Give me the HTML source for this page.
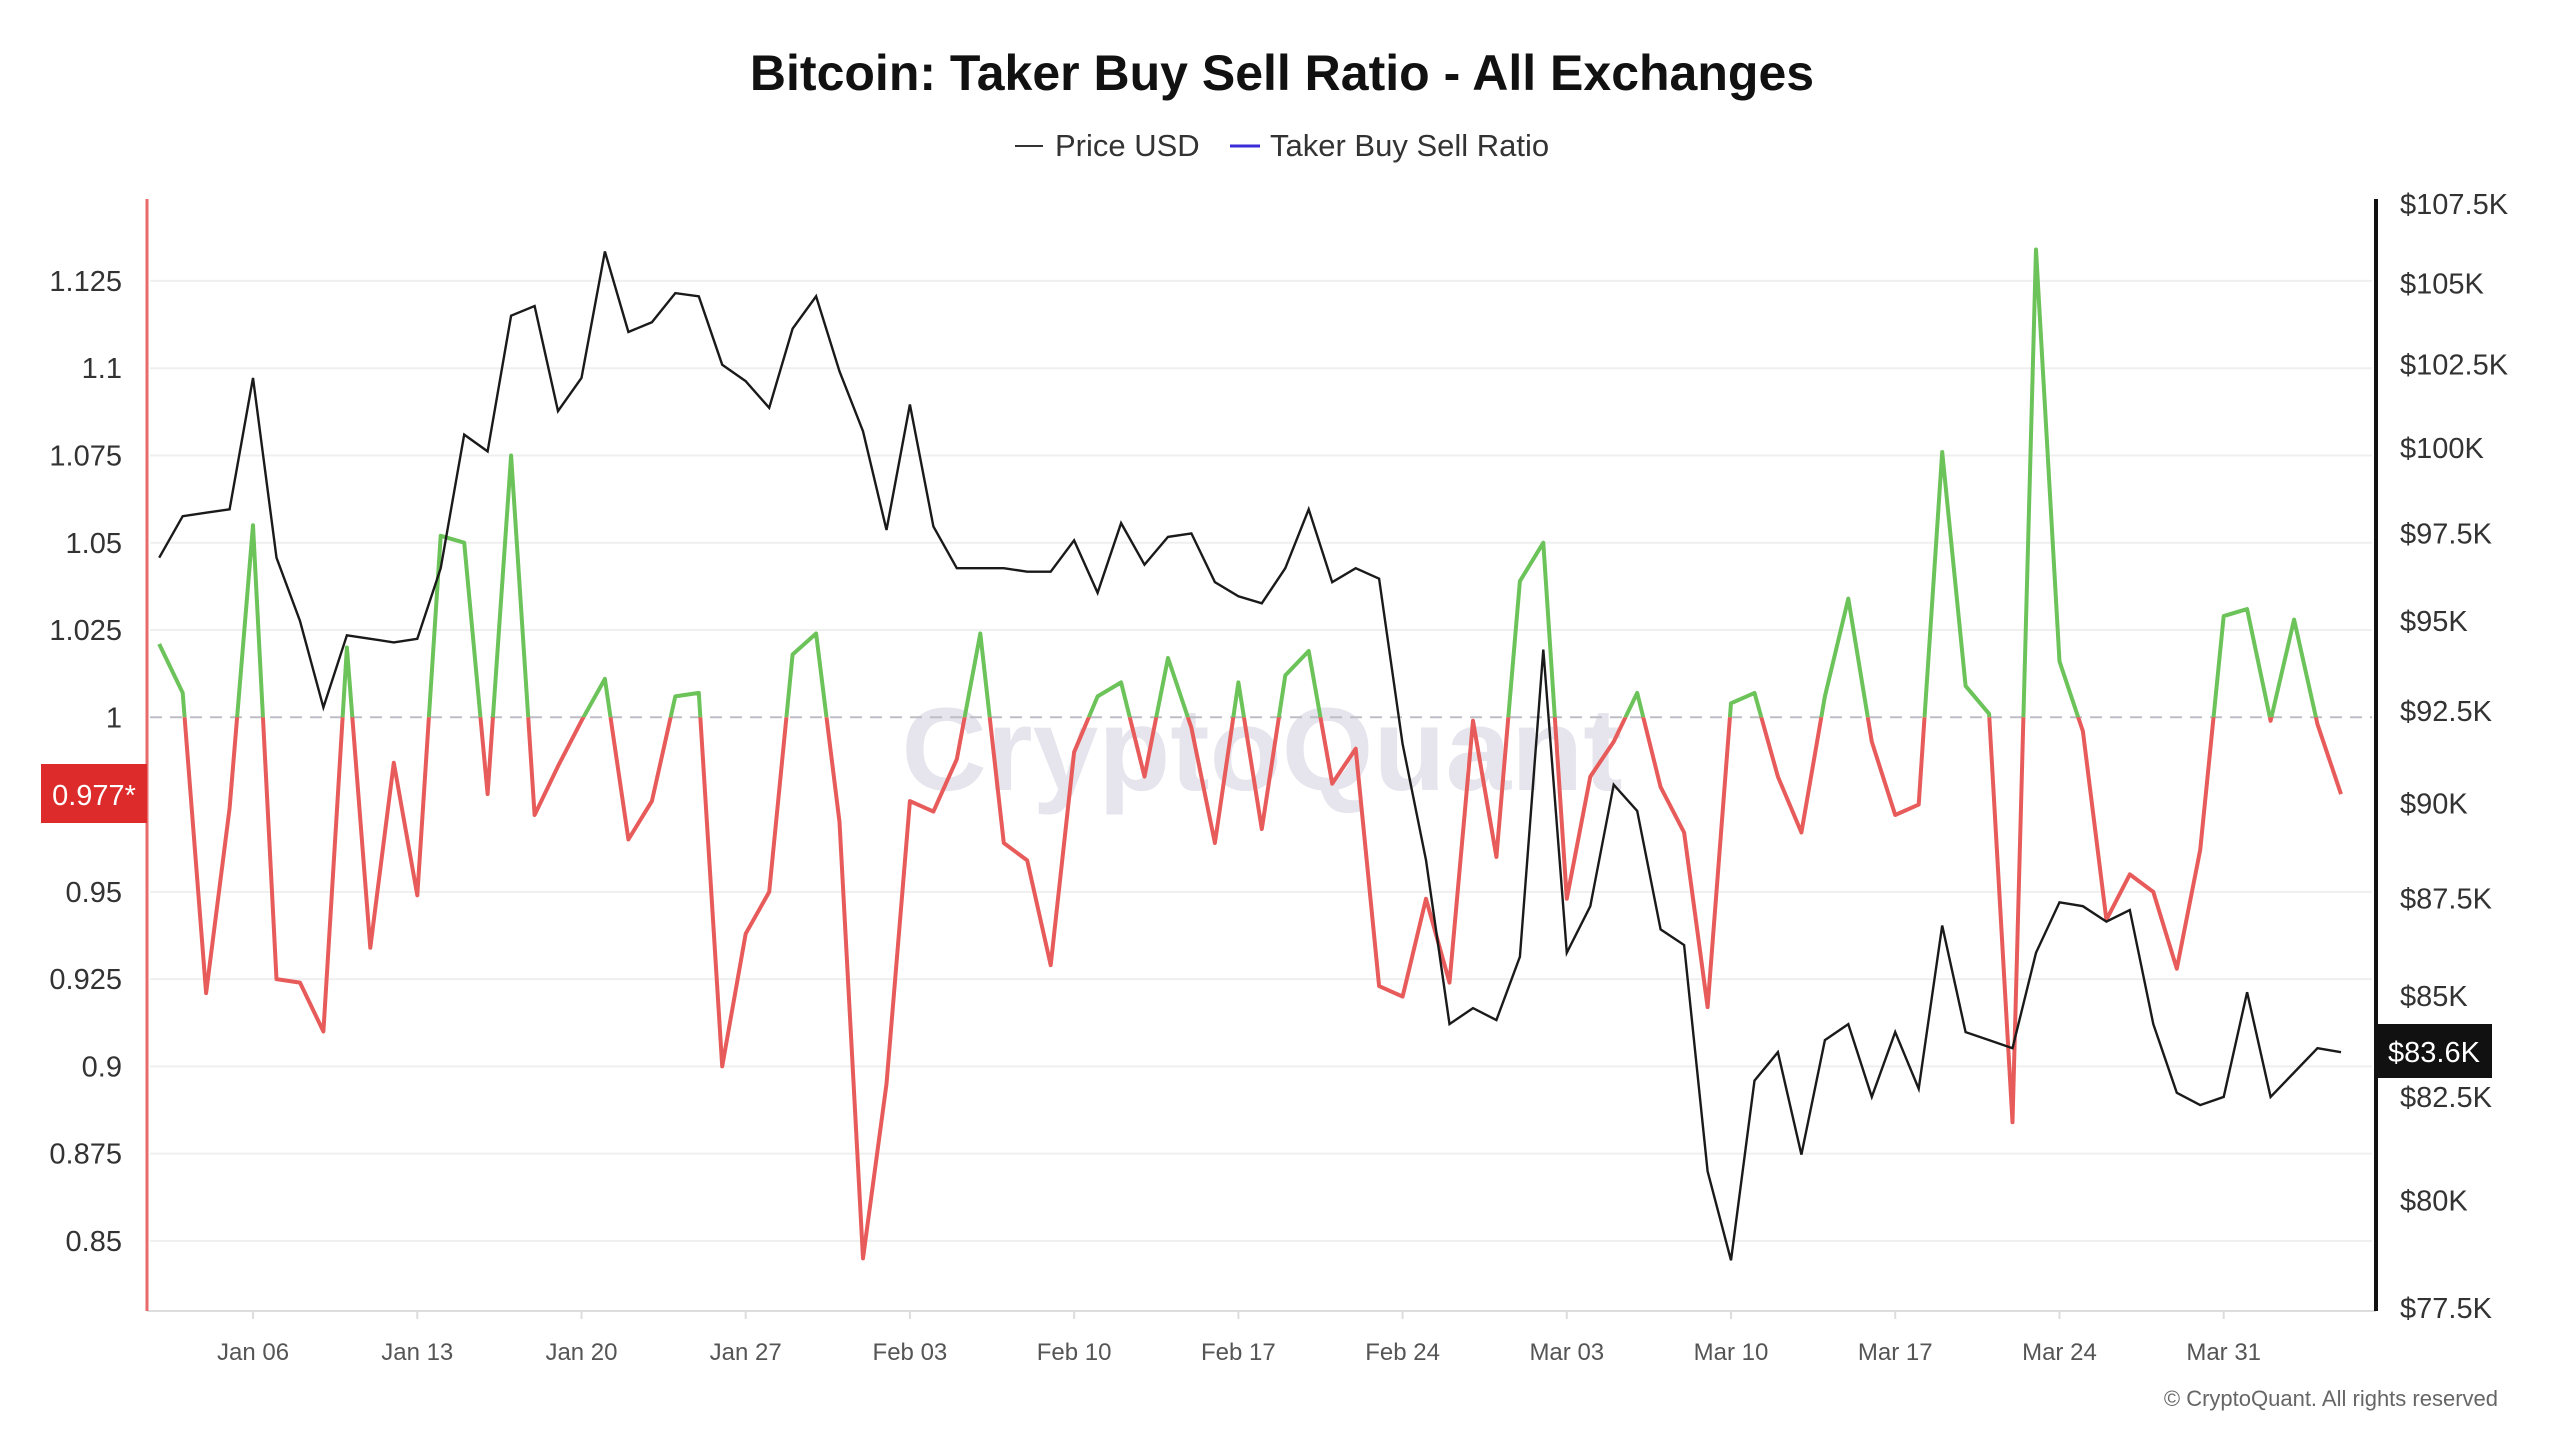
<!DOCTYPE html>
<html><head><meta charset="utf-8">
<style>
html,body{margin:0;padding:0;background:#fff;}
body{width:2560px;height:1440px;overflow:hidden;font-family:"Liberation Sans",sans-serif;}
svg text{font-family:"Liberation Sans",sans-serif;}
</style></head>
<body>
<svg id="chart" width="2560" height="1440" viewBox="0 0 2560 1440" xmlns="http://www.w3.org/2000/svg">
  <text x="1282" y="90" text-anchor="middle" font-size="50" font-weight="bold" fill="#111">Bitcoin: Taker Buy Sell Ratio - All Exchanges</text>
  <g>
    <g>
      <line x1="1015" y1="146" x2="1043" y2="146" stroke="#333" stroke-width="2"/>
      <text x="1055" y="156" font-size="31" fill="#333">Price USD</text>
    </g>
    <g>
      <line x1="1230" y1="146" x2="1260" y2="146" stroke="#3b2bd9" stroke-width="3"/>
      <text x="1270" y="156" font-size="31" fill="#333">Taker Buy Sell Ratio</text>
    </g>
  </g>
  <text x="1262" y="790" text-anchor="middle" font-size="118" font-weight="bold" fill="#e6e4ec">CryptoQuant</text>
  <g id="grid"></g>
  <g id="xaxis"></g>
  <g id="yleft"></g>
  <g id="yright"></g>
  <g id="series"></g>
  <g>
    <rect x="41" y="764" width="106" height="59" fill="#dd2a2a"/>
    <text x="94" y="805" text-anchor="middle" font-size="29" fill="#fff">0.977*</text>
  </g>
  <g>
    <rect x="2376" y="1024" width="116" height="54" fill="#111"/>
    <text x="2434" y="1062" text-anchor="middle" font-size="29" fill="#fff">$83.6K</text>
  </g>
  <text x="2498" y="1406" text-anchor="end" font-size="22" fill="#666">© CryptoQuant. All rights reserved</text>
</svg>
<script>
const ratio = [1.021,1.007,0.921,0.974,1.055,0.925,0.924,0.910,1.020,0.934,0.987,0.949,1.052,1.050,0.978,1.075,0.972,0.986,0.999,1.011,0.965,0.976,1.006,1.007,0.900,0.938,0.950,1.018,1.024,0.970,0.845,0.895,0.976,0.973,0.988,1.024,0.964,0.959,0.929,0.990,1.006,1.010,0.983,1.017,0.997,0.964,1.010,0.968,1.012,1.019,0.981,0.991,0.923,0.920,0.948,0.924,0.999,0.960,1.039,1.050,0.948,0.983,0.993,1.007,0.980,0.967,0.917,1.004,1.007,0.983,0.967,1.006,1.034,0.993,0.972,0.975,1.076,1.009,1.001,0.884,1.134,1.016,0.996,0.942,0.955,0.950,0.928,0.962,1.029,1.031,0.999,1.028,0.998,0.978];
const price = [96.8,98.0,98.1,98.2,102.1,96.8,95.0,92.6,94.6,94.5,94.4,94.5,96.5,100.4,99.9,104.0,104.3,101.1,102.1,106.0,103.5,103.8,104.7,104.6,102.5,102.0,101.2,103.6,104.6,102.3,100.5,97.6,101.3,97.7,96.5,96.5,96.5,96.4,96.4,97.3,95.8,97.8,96.6,97.4,97.5,96.1,95.7,95.5,96.5,98.2,96.1,96.5,96.2,91.6,88.5,84.3,84.7,84.4,86.0,94.2,86.1,87.3,90.5,89.8,86.7,86.3,80.7,78.6,82.9,83.6,81.1,83.9,84.3,82.5,84.1,82.7,86.8,84.1,83.9,83.7,86.1,87.4,87.3,86.9,87.2,84.3,82.6,82.3,82.5,85.1,82.5,83.1,83.7,83.6];
const ratioTicks = [1.125,1.1,1.075,1.05,1.025,1,0.95,0.925,0.9,0.875,0.85];
const ratioTickLabels = ["1.125","1.1","1.075","1.05","1.025","1","0.95","0.925","0.9","0.875","0.85"];
const priceTicks = [107.5,105,102.5,100,97.5,95,92.5,90,87.5,85,82.5,80,77.5];
const priceTickLabels = ["$107.5K","$105K","$102.5K","$100K","$97.5K","$95K","$92.5K","$90K","$87.5K","$85K","$82.5K","$80K","$77.5K"];
const xTickIndex = [4,11,18,25,32,39,46,53,60,67,74,81,88];
const xTickLabels = ["Jan 06","Jan 13","Jan 20","Jan 27","Feb 03","Feb 10","Feb 17","Feb 24","Mar 03","Mar 10","Mar 17","Mar 24","Mar 31"];

const NS="http://www.w3.org/2000/svg";
function mk(tag,attrs,parent){const e=document.createElementNS(NS,tag);for(const k in attrs)e.setAttribute(k,attrs[k]);parent.appendChild(e);return e;}
function xPos(i){return 159.2+23.46*i;}
function yRatio(v){return 717.3-(v-1)*3491;}
function yPrice(p){return 204.1+(Math.log(107.5)-Math.log(p))*3373;}

const grid=document.getElementById('grid');
ratioTicks.forEach(v=>{
  if(v===1)return;
  const l=mk('line',{x1:150,x2:2372,y1:yRatio(v),y2:yRatio(v),stroke:'#efefef','stroke-width':2},grid);
  
  
});
const ref=mk('line',{x1:150,x2:2372,y1:yRatio(1),y2:yRatio(1),stroke:'#bdbdc6','stroke-width':2,'stroke-dasharray':'12,8'},grid);



const yl=document.getElementById('yleft');
mk('line',{x1:147,x2:147,y1:199,y2:1311,stroke:'#e86a6a','stroke-width':3},yl);
ratioTicks.forEach((v,i)=>{
  const t=mk('text',{x:122,y:yRatio(v)+10,'text-anchor':'end','font-size':29,fill:'#333'},yl);
  t.textContent=ratioTickLabels[i];
  
  
});
const yr=document.getElementById('yright');
mk('line',{x1:2376,x2:2376,y1:199,y2:1311,stroke:'#111','stroke-width':4},yr);
priceTicks.forEach((p,i)=>{
  const t=mk('text',{x:2400,y:yPrice(p)+10,'font-size':29,fill:'#333'},yr);
  t.textContent=priceTickLabels[i];
  
  
});
const xa=document.getElementById('xaxis');
mk('line',{x1:147,x2:2376,y1:1311,y2:1311,stroke:'#ddd','stroke-width':2},xa);
xTickIndex.forEach((idx,i)=>{
  mk('line',{x1:xPos(idx),x2:xPos(idx),y1:1311,y2:1319,stroke:'#ddd','stroke-width':2},xa);
  const t=mk('text',{x:xPos(idx),y:1360,'text-anchor':'middle','font-size':24,fill:'#555'},xa);
  t.textContent=xTickLabels[i];
  
  
});

const ser=document.getElementById('series');
const defs=mk('defs',{},ser);
const y1=yRatio(1);
const ca=mk('clipPath',{id:'above'},defs); mk('rect',{x:0,y:0,width:2560,height:y1},ca);
const cb=mk('clipPath',{id:'below'},defs); mk('rect',{x:0,y:y1,width:2560,height:1440-y1},cb);
const rpts=ratio.map((v,i)=>xPos(i).toFixed(1)+','+yRatio(v).toFixed(1)).join(' ');
const g1=mk('polyline',{points:rpts,fill:'none',stroke:'#6cc35a','stroke-width':4,'stroke-linejoin':'round','clip-path':'url(#above)'},ser);


const r1=mk('polyline',{points:rpts,fill:'none',stroke:'#e85b5b','stroke-width':4,'stroke-linejoin':'round','clip-path':'url(#below)'},ser);


const ppts=price.map((p,i)=>xPos(i).toFixed(1)+','+yPrice(p).toFixed(1)).join(' ');
const pl=mk('polyline',{points:ppts,fill:'none',stroke:'#1a1a1a','stroke-width':2.4,'stroke-linejoin':'miter'},ser);


</script>
</body></html>
